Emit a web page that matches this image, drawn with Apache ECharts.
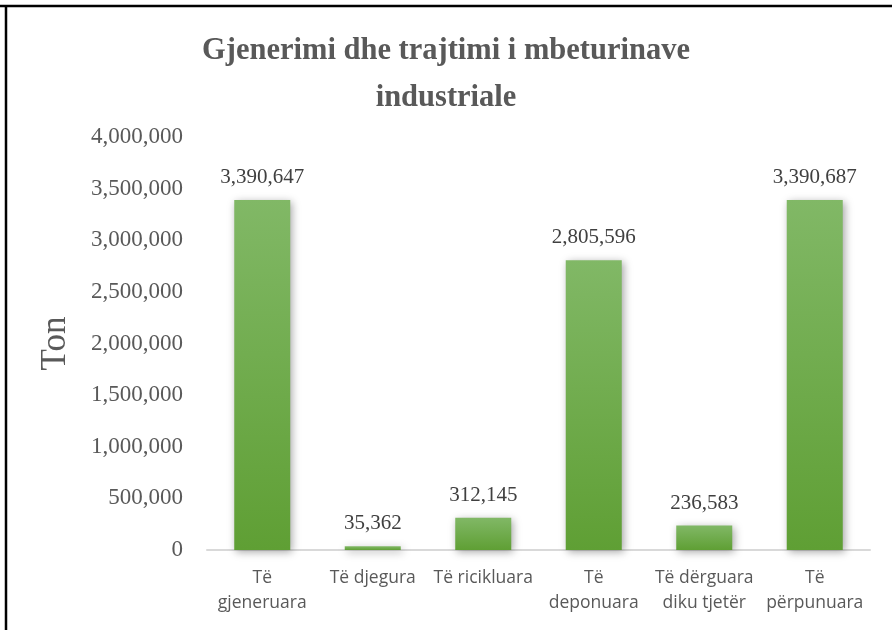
<!DOCTYPE html>
<html>
<head>
<meta charset="utf-8">
<title>Gjenerimi dhe trajtimi i mbeturinave industriale</title>
<script src="https://cdn.jsdelivr.net/npm/echarts@6/dist/echarts.min.js"></script>
<style>
  html, body { margin: 0; padding: 0; background: #fff; }
  #chart { width: 892px; height: 630px; }
</style>
</head>
<body>
<div id="chart"></div>
<script>
const categories = ['Të\ngjeneruara', 'Të djegura', 'Të ricikluara', 'Të\ndeponuara', 'Të dërguara\ndiku tjetër', 'Të\npërpunuara']
const tonValues = [3390647, 35362, 312145, 2805596, 236583, 3390687]
const yTicks = { min: 0, max: 4000000, interval: 500000 }

const serif = '"Liberation Serif", "DejaVu Serif", serif'
const sans = '"Open Sans", "Noto Sans", sans-serif'
const fmt = v => Number(v).toLocaleString('en-US')

const chart = echarts.init(document.getElementById('chart'))
chart.setOption({
  animation: false,
  backgroundColor: '#fff',
  title: {
    text: 'Gjenerimi dhe trajtimi i mbeturinave\nindustriale',
    left: 'center',
    top: 28,
    // nudge the centred title a little right, like the original
    padding: [0, 0, 0, 26],
    textStyle: {
      fontFamily: serif,
      fontWeight: 'bold',
      fontSize: 30.5,
      lineHeight: 47,
      color: '#595959'
    }
  },
  grid: { left: 207, right: 22, top: 137, bottom: 80 },
  xAxis: {
    type: 'category',
    data: categories,
    axisLine: { lineStyle: { color: '#d9d9d9', width: 2 } },
    axisTick: { show: false },
    axisLabel: {
      interval: 0,
      margin: 16,
      fontFamily: sans,
      fontSize: 17.5,
      lineHeight: 25,
      color: '#595959'
    }
  },
  yAxis: {
    type: 'value',
    min: yTicks.min,
    max: yTicks.max,
    interval: yTicks.interval,
    name: 'Ton',
    nameLocation: 'middle',
    nameGap: 134,
    nameTextStyle: { fontFamily: serif, fontSize: 35, color: '#595959' },
    axisLine: { show: false },
    axisTick: { show: false },
    splitLine: { show: false },
    axisLabel: {
      margin: 24,
      fontFamily: serif,
      fontSize: 23,
      color: '#595959',
      formatter: fmt
    }
  },
  series: [
    {
      type: 'bar',
      data: tonValues,
      barWidth: 56,
      itemStyle: {
        color: new echarts.graphic.LinearGradient(0, 0, 0, 1, [
          { offset: 0, color: '#81b866' },
          { offset: 1, color: '#5f9f34' }
        ]),
        shadowColor: 'rgba(0, 0, 0, 0.35)',
        shadowBlur: 8,
        shadowOffsetX: 2,
        shadowOffsetY: 2
      },
      label: {
        show: true,
        position: 'top',
        distance: 12,
        fontFamily: serif,
        fontSize: 21,
        color: '#404040',
        formatter: p => fmt(p.value)
      }
    }
  ],
  graphic: [
    { type: 'line', shape: { x1: 0, y1: 6, x2: 892, y2: 6 }, style: { stroke: '#000', lineWidth: 2.5 } },
    { type: 'line', shape: { x1: 6, y1: 6, x2: 6, y2: 630 }, style: { stroke: '#000', lineWidth: 2.5 } }
  ]
})
</script>
</body>
</html>
